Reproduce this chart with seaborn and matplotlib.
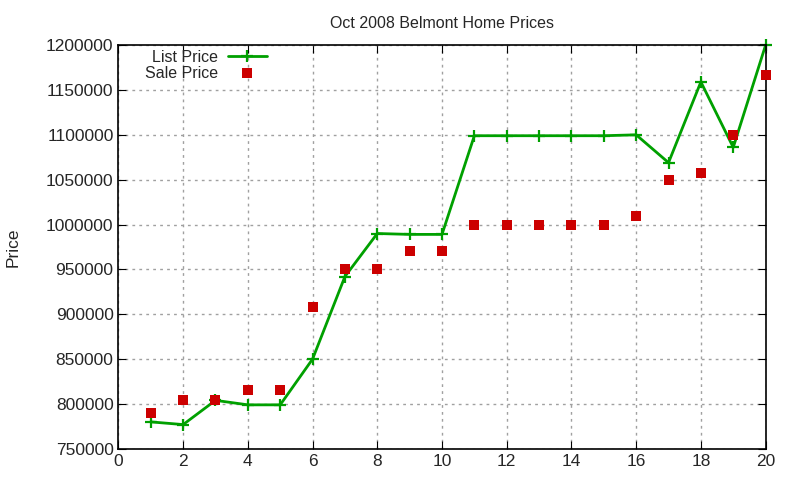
import numpy as np
import pandas as pd
import matplotlib
matplotlib.use("Agg")
import matplotlib.pyplot as plt
import seaborn as sns

house = list(range(1, 21))
list_price = [780000, 777000, 804000, 799000, 799000, 850000, 942000, 990000, 989000, 989000,
              1099000, 1099000, 1099000, 1099000, 1099000, 1100000, 1069000, 1159000, 1086000, 1200000]
sale_price = [790000, 804000, 804000, 815000, 815000, 908000, 950000, 950000, 970000, 970000,
              1000000, 1000000, 1000000, 1000000, 1000000, 1010000, 1050000, 1058000, 1100000, 1167000]

df = pd.DataFrame({"house": house, "list": list_price, "sale": sale_price})

sns.set_style("ticks")
plt.rcParams["font.family"] = ["Liberation Sans", "DejaVu Sans"]

fig = plt.figure(figsize=(8, 4.8), dpi=100)
ax = fig.add_axes([0.148, 0.065, 0.809, 0.841])

green = "#00a000"
sns.lineplot(data=df, x="house", y="list", ax=ax, color=green, linewidth=2,
             marker="+", markersize=9, markeredgewidth=1.6, markeredgecolor=green,
             label="List Price", clip_on=False)
sns.scatterplot(data=df, x="house", y="sale", ax=ax, color="#cc0000", marker="s",
                s=55, linewidth=0, label="Sale Price", zorder=3, clip_on=False)

ax.set_xlim(0, 20)
ax.set_ylim(750000, 1200000)
ax.set_xticks(range(0, 21, 2))
ax.set_yticks(range(750000, 1200001, 50000))
ax.ticklabel_format(style="plain", axis="y", useOffset=False)
ax.grid(True, color="#a0a0a0", linestyle=(0, (2, 3)), linewidth=1)
ax.tick_params(direction="in", top=True, right=True, length=6, labelsize=12.5, color="black")
for sp in ax.spines.values():
    sp.set_linewidth(1.2)
    sp.set_color("black")

ax.set_title("Oct 2008 Belmont Home Prices", fontsize=11.5, pad=12)
ax.set_xlabel("")
ax.set_ylabel("Price", fontsize=12.5, labelpad=18)

ax.legend(loc="upper left", bbox_to_anchor=(0.026, 1.012), frameon=False, markerfirst=False,
          fontsize=11.5, handlelength=2.5, handletextpad=0.6, labelspacing=0.05, borderaxespad=0.2)

fig.savefig("out.png", dpi=100)
